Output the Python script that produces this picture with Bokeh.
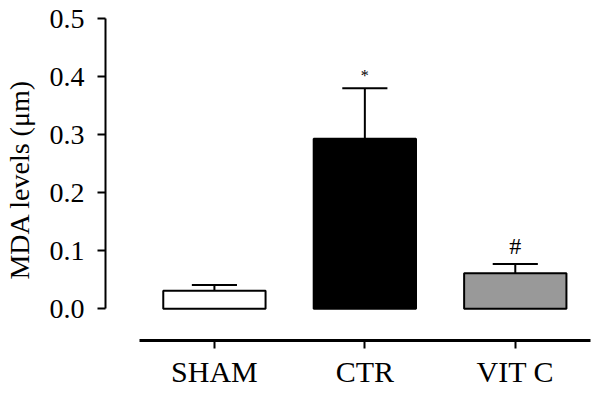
from bokeh.plotting import figure
from bokeh.models import ColumnDataSource, FixedTicker, Range1d, PrintfTickFormatter
from bokeh.core.properties import value
from bokeh.embed import file_html
from bokeh.resources import INLINE

categories = ["SHAM", "CTR", "VIT C"]
means = [0.031, 0.293, 0.061]
errors = [0.010, 0.087, 0.016]
fills = ["white", "black", "#999999"]
marks = ["", "*", "#"]
y_ticks = [0.0, 0.1, 0.2, 0.3, 0.4, 0.5]

FONT = "Liberation Serif"
xs = [i + 1 for i in range(len(categories))]
upper = [m + e for m, e in zip(means, errors)]
bar_w = 0.68
cap_w = 0.15

src = ColumnDataSource(dict(x=xs, top=means, upper=upper, fill=fills,
                            x0=[x - cap_w for x in xs], x1=[x + cap_w for x in xs],
                            mark=marks, my=[u + d for u, d in zip(upper, [0.02, 0.022, 0.031])],
                            fs=["16px", "16px", "24px"]))

p = figure(width=592, height=390, output_backend="svg", toolbar_location=None,
           x_range=Range1d(0.276, 3.5), y_range=Range1d(-0.0548, 0.5),
           min_border_left=100, min_border_right=2, min_border_top=18,
           min_border_bottom=48)
p.outline_line_color = None
p.xgrid.grid_line_color = None
p.ygrid.grid_line_color = None
p.background_fill_color = "white"

# error bars (upper only)
p.segment(x0="x", y0="top", x1="x", y1="upper", source=src, line_color="black", line_width=2)
p.segment(x0="x0", y0="upper", x1="x1", y1="upper", source=src, line_color="black", line_width=2)
p.vbar(x="x", top="top", bottom=0, width=bar_w, source=src, fill_color="fill",
       line_color="black", line_width=2)
p.text(x="x", y="my", text="mark", source=src, text_align="center", text_baseline="middle",
       text_font=value(FONT), text_font_size="fs", text_color="black")

# x axis
xa = p.xaxis[0]
xa.ticker = FixedTicker(ticks=xs)
xa.major_label_overrides = {x: c for x, c in zip(xs, categories)}
xa.bounds = (0.5, 3.5)
xa.axis_line_width = 3
xa.major_tick_line_width = 2
xa.major_tick_out = 8
xa.major_tick_in = 0
xa.minor_tick_line_color = None
xa.major_label_text_font = FONT
xa.major_label_text_font_size = "30px"
xa.major_label_text_color = "black"
xa.major_label_standoff = 6

# y axis
ya = p.yaxis[0]
ya.ticker = FixedTicker(ticks=y_ticks)
ya.formatter = PrintfTickFormatter(format="%.1f")
ya.bounds = (0, 0.5)
ya.axis_line_width = 2
ya.major_tick_line_width = 2
ya.major_tick_out = 8
ya.major_tick_in = 0
ya.minor_tick_line_color = None
ya.major_label_text_font = FONT
ya.major_label_text_font_size = "28px"
ya.major_label_text_color = "black"
ya.major_label_standoff = 13
ya.axis_label = "MDA levels (μm)"
ya.axis_label_text_font = FONT
ya.axis_label_text_font_style = "normal"
ya.axis_label_text_font_size = "28px"
ya.axis_label_text_color = "black"
ya.axis_label_standoff = 12

open("out.html", "w").write(file_html(p, INLINE))
